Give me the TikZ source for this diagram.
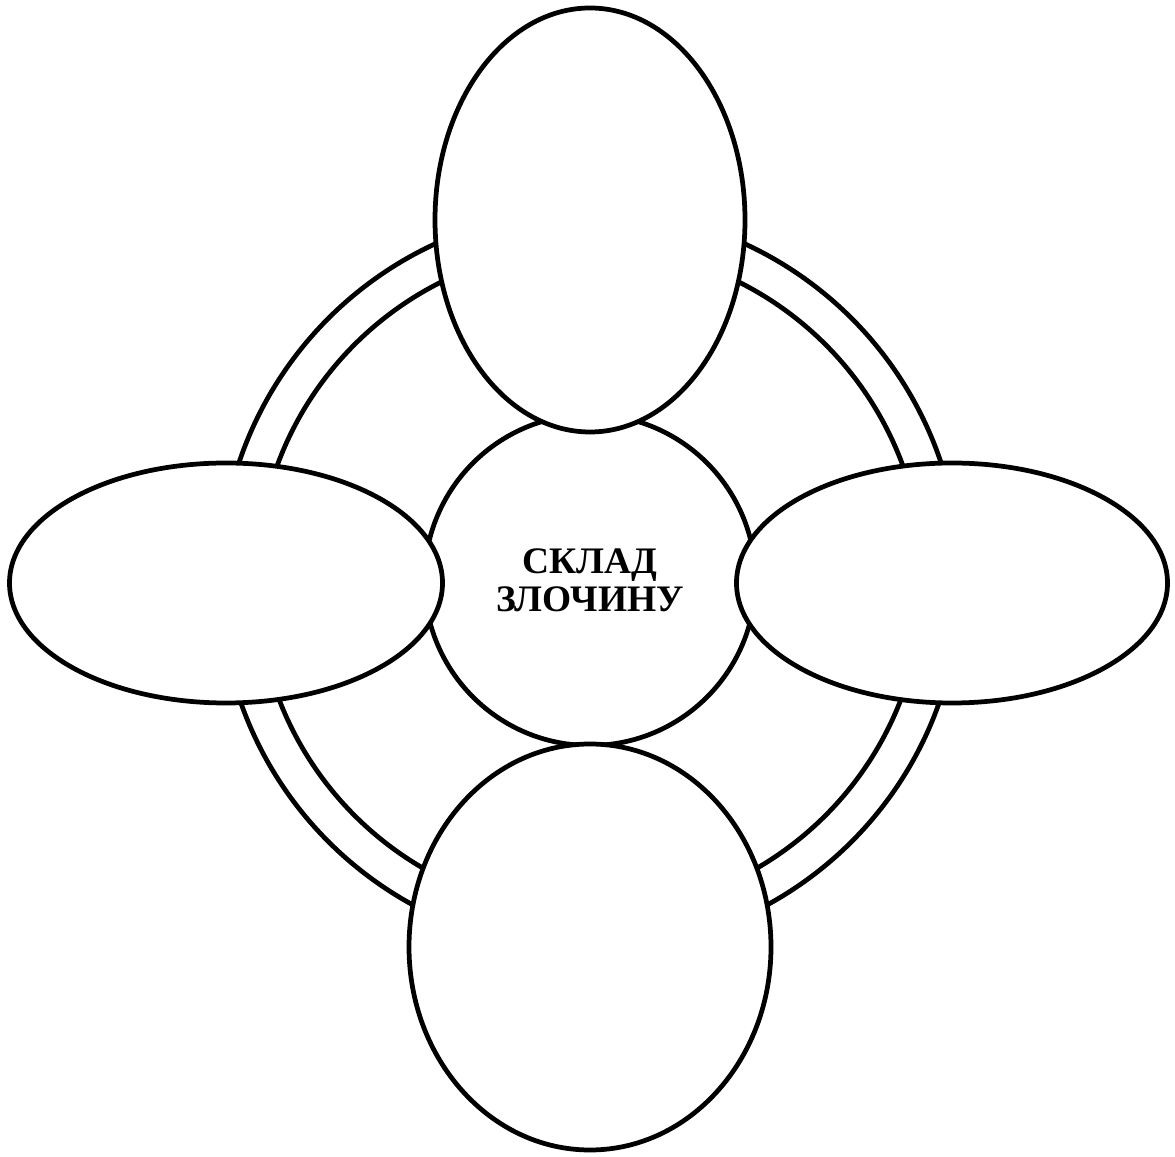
\documentclass[tikz,border=0pt]{standalone}
\usepackage{fontspec}
\setmainfont{Liberation Serif}
\usetikzlibrary{shapes.geometric, positioning}
\tikzset{
    ring/.style = {line width=2.7pt, draw=black},
    core/.style = {circle, draw=black, fill=white, line width=2.7pt, minimum size=6.62cm, inner sep=0pt, align=center, font=\bfseries\fontsize{21.3}{21.5}\selectfont},
    petal/.style = {ellipse, draw=black, fill=white, line width=2.7pt, inner sep=0pt}
}
\begin{document}
\begin{tikzpicture}
\useasboundingbox (0,0) rectangle (23.5,23.12);
\coordinate (O) at (11.8,11.52);
% double ring
\draw [ring] (O) circle (7.4cm);
\draw [ring] (O) circle (6.66cm);
% centre
\node (core) [core] at (O) {СКЛАД\\ ЗЛОЧИНУ};
% ellipses round it
\node (top) [petal, minimum width=6.2cm, minimum height=8.48cm] at (11.8,18.72) {};
\node (left) [petal, minimum width=8.66cm, minimum height=4.8cm] at (4.52,11.46) {};
\node (right) [petal, minimum width=8.62cm, minimum height=4.8cm] at (19.04,11.46) {};
\node (bottom) [petal, minimum width=7.24cm, minimum height=8.12cm] at (11.8,4.18) {};
\end{tikzpicture}
\end{document}
